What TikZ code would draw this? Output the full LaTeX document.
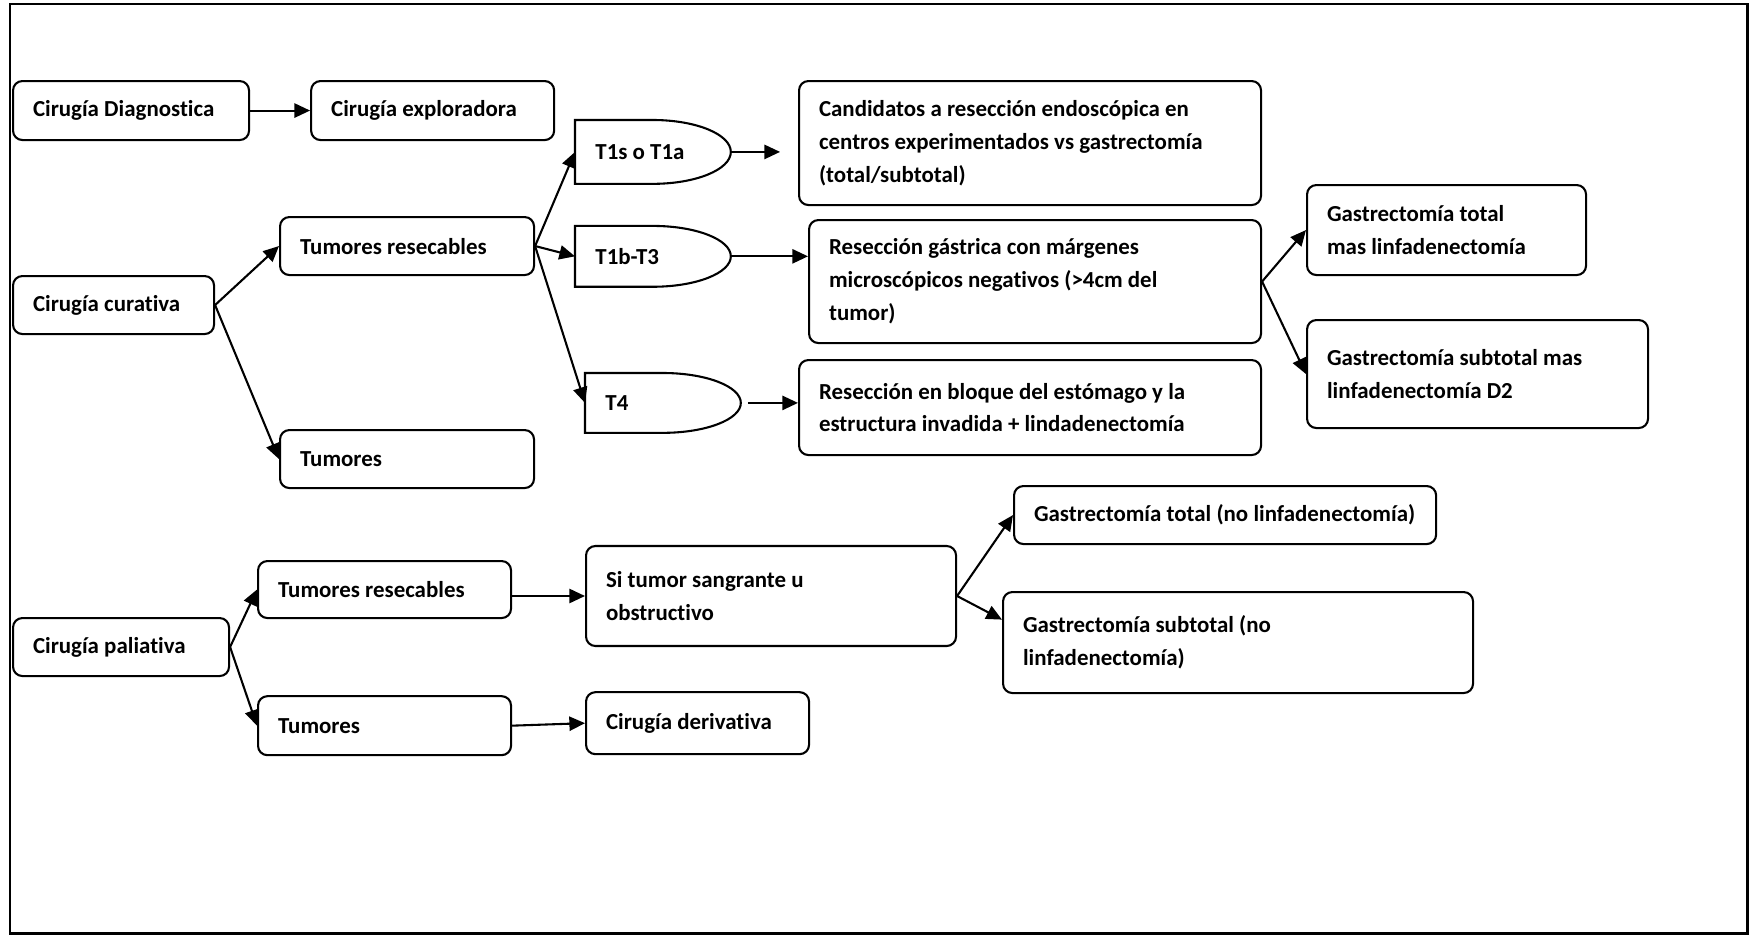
\documentclass[tikz,border=0pt]{standalone}
\usepackage{fontspec}
\setmainfont{Carlito}[Ligatures=NoCommon]
\usetikzlibrary{positioning, arrows.meta, calc}

\begin{document}
\begin{tikzpicture}[
    x=0.48pt, y=-0.48pt,
    every node/.style={font=\fontsize{11pt}{15.8pt}\selectfont\bfseries},
    block/.style={
        rectangle,
        rounded corners=4.5pt,
        draw=black,
        fill=white,
        align=left,
        inner xsep=9.6pt,
        inner ysep=0pt,
        line width=1pt,
        execute at begin node={\spaceskip=0pt\xspaceskip=0pt\hyphenpenalty=10000}
    },
    stage/.style={
        rectangle,
        align=left,
        inner xsep=9.6pt,
        inner ysep=0pt,
        text width=55.2pt,
        execute at begin node={\spaceskip=0pt\xspaceskip=0pt}
    },
    arrow/.style={
        -{Triangle[length=7.5pt, width=6.8pt]},
        line width=1pt,
        color=black
    }
]

\useasboundingbox (0,0) rectangle (1749,935);
\draw[line width=1pt] (10,4) rectangle (1747.5,933.5);

% ==================== CIRUGIA DIAGNOSTICA ====================
\node[block, anchor=north west, text width=94.08pt, minimum height=28.32pt] (diag) at (12,80) {Cirugía Diagnostica};
\node[block, right=28.8pt of diag, text width=97.44pt, minimum height=28.32pt] (explo) {Cirugía exploradora};

\draw[arrow] (diag) -- (explo);

% ==================== CIRUGIA CURATIVA ====================
\node[block, anchor=north west, text width=77.28pt, minimum height=27.84pt] (cur) at (12,275) {Cirugía curativa};
\node[block, anchor=north west, text width=102.72pt, minimum height=27.84pt] (curres) at (279,216) {Tumores resecables};
\node[block, below=73.4pt of curres, text width=102.72pt, minimum height=27.84pt] (curtum) {Tumores};

% T stages
\node[stage, anchor=north west, minimum height=30.24pt] (t1s) at (575,120) {T1s o T1a};
\node[stage, below=20.2pt of t1s, minimum height=28.8pt] (t1b) {T1b-T3};
\node[stage, anchor=north west, minimum height=28.32pt] (t4) at (585,373) {T4};

\foreach \s in {t1s, t1b, t4}
    \draw[line width=1pt] (\s.south west) -- (\s.north west) -- (\s.north)
        .. controls ($(\s.north)!0.552!(\s.north east)$) and ($(\s.east)!0.552!(\s.north east)$) .. (\s.east)
        .. controls ($(\s.east)!0.552!(\s.south east)$) and ($(\s.south)!0.552!(\s.south east)$) .. (\s.south) -- cycle;

% Treatments
\node[block, anchor=north west, text width=202.56pt, minimum height=59.52pt] (cand) at (798,80) {Candidatos a resección endoscópica en\\centros experimentados vs gastrectomía\\(total/subtotal)};
\node[block, anchor=north west, text width=197.76pt, minimum height=59.04pt] (resg) at (808,219) {Resección gástrica con márgenes\\microscópicos negativos (>4cm del\\tumor)};
\node[block, anchor=north west, text width=202.56pt, minimum height=45.6pt] (bloque) at (798,359) {Resección en bloque del estómago y la\\estructura invadida + lindadenectomía};
\node[block, anchor=north west, text width=114.72pt, minimum height=43.2pt] (gtot) at (1306,184) {Gastrectomía total\\mas linfadenectomía};
\node[block, anchor=north west, text width=144.48pt, minimum height=51.84pt] (gsub) at (1306,319) {Gastrectomía subtotal mas\\linfadenectomía D2};

% Curative connections
\draw[arrow] (cur.east) -- (curres.west);
\draw[arrow] (cur.east) -- (curtum.west);
\draw[arrow] (curres.east) -- (t1s.west);
\draw[arrow] (curres.east) -- (t1b.west);
\draw[arrow] (curres.east) -- (t4.west);
\draw[arrow, shorten >=8.6pt] (t1s.east) -- (t1s.east -| cand.west);
\draw[arrow] (t1b.east) -- (t1b.east -| resg.west);
\draw[arrow, shorten <=3.4pt] (t4.east) -- (t4.east -| bloque.west);
\draw[arrow] (resg.east) -- (gtot.west);
\draw[arrow] (resg.east) -- (gsub.west);

% ==================== CIRUGIA PALIATIVA ====================
\node[block, anchor=north west, text width=84.48pt, minimum height=27.84pt] (pal) at (12,617) {Cirugía paliativa};
\node[block, anchor=north west, text width=102.24pt, minimum height=27.36pt] (palres) at (257,560) {Tumores resecables};
\node[block, below=36.5pt of palres, text width=102.24pt, minimum height=28.32pt] (paltum) {Tumores};
\node[block, right=35pt of palres, yshift=-3.1pt, text width=158.4pt, minimum height=48pt] (sangr) {Si tumor sangrante u\\obstructivo};
\node[block, right=35pt of paltum, yshift=1.2pt, text width=87.84pt, minimum height=29.76pt] (deriv) {Cirugía derivativa};
\node[block, anchor=north west, text width=183.4pt, minimum height=27.84pt] (gtotno) at (1013,485) {Gastrectomía total (no linfadenectomía)};
\node[block, anchor=north west, text width=206.4pt, minimum height=48.48pt] (gsubno) at (1002,591) {Gastrectomía subtotal (no\\linfadenectomía)};

% Palliative connections
\draw[arrow] (pal.east) -- (palres.west);
\draw[arrow] (pal.east) -- (paltum.west);
\draw[arrow] (palres.east |- sangr.west) -- (sangr.west);
\draw[arrow] (paltum.east) -- (deriv.west);
\draw[arrow] (sangr.east) -- (gtotno.west);
\draw[arrow] (sangr.east) -- ([yshift=11pt]gsubno.west);

\end{tikzpicture}
\end{document}
